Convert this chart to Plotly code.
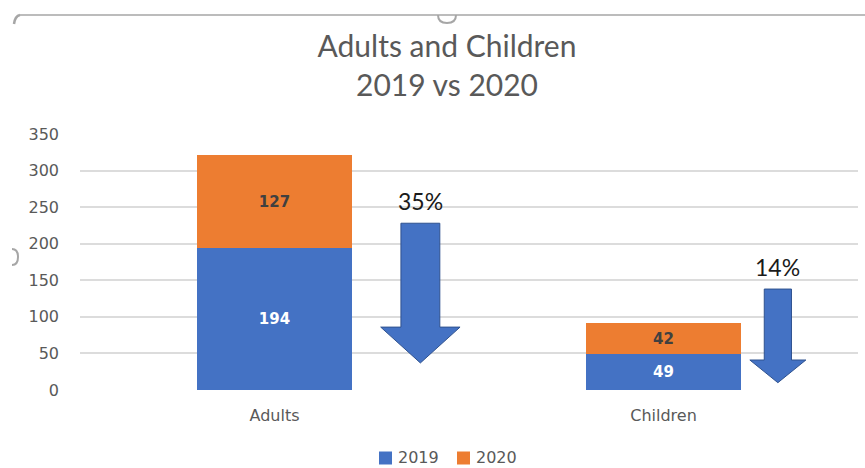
import plotly.graph_objects as go

# ---- data -------------------------------------------------------------
categories = ["Adults", "Children"]
years = ["2019", "2020"]
values_2019 = [194, 49]
values_2020 = [127, 42]
y_ticks = [0, 50, 100, 150, 200, 250, 300, 350]

# ---- styling / layout constants --------------------------------------
W, H = 865, 468
M_L, M_R, M_T, M_B = 80, 7, 134, 78
PLOT_W = W - M_L - M_R
PLOT_H = H - M_T - M_B
Y_MAX = 350

BLUE = "#4472C4"
ORANGE = "#ED7D31"
SERIES_COLORS = [BLUE, ORANGE]
ARROW_EDGE = "#2F528F"
GRID = "#DCDCDC"
TEXT_GREY = "#595959"
FRAME_GREY = "#A6A6A6"

AXIS_FONT = "DejaVu Sans"
TITLE_FONT = "Lato"

CENTER_X = 447  # horizontal centre of the chart frame, px

# decrease arrows: (offset from category centre, shaft half-width,
# head half-width) in category units; (top, head base, tip) in data units
arrow_specs = [
    (0.375, 0.050, 0.102, 228, 86, 37),
    (0.294, 0.035, 0.072, 138, 41, 10),
]
LABEL_GAP = 30  # data units between arrow top and its percentage label

# legend layout: square size, gap square->text, gap between entries (px)
LEG_SQ, LEG_TXT_GAP, LEG_ENTRY_GAP, LEG_Y = 13, 5, 20, 457
LEG_TEXT_W = 40  # approx. width of a 4-digit label at 16px


def cat_to_paper(x):
    """Category index -> paper x for an axis spanning [-0.5, n-0.5]."""
    return (x + 0.5) / len(categories)


def px_to_paper(xp, yp):
    return (xp - M_L) / PLOT_W, (H - M_B - yp) / PLOT_H


fig = go.Figure()

series = [values_2019, values_2020]
label_colors = ["white", "#404040"]
for name, vals, col, lcol in zip(years, series, SERIES_COLORS, label_colors):
    fig.add_trace(go.Bar(
        name=name, x=categories, y=vals,
        marker=dict(color=col, line=dict(width=0)),
        text=[str(v) for v in vals], textposition="inside",
        insidetextanchor="middle", textangle=0, constraintext="none",
        textfont=dict(family=AXIS_FONT, size=15, color=lcol, weight="bold"),
        hoverinfo="skip", showlegend=False,
    ))

shapes = []
annotations = []

# down arrows with percentage decrease labels
for i, (off, sh, hh, top, base, tip) in enumerate(arrow_specs):
    c = i + off
    xl, xr = cat_to_paper(c - sh), cat_to_paper(c + sh)
    hl, hr = cat_to_paper(c - hh), cat_to_paper(c + hh)
    xc = cat_to_paper(c)
    path = (f"M {xl},{top} L {xr},{top} L {xr},{base} L {hr},{base} "
            f"L {xc},{tip} L {hl},{base} L {xl},{base} Z")
    shapes.append(dict(type="path", xref="paper", yref="y", path=path,
                       fillcolor=BLUE, line=dict(color=ARROW_EDGE, width=1),
                       layer="above"))
    drop = (values_2019[i] - values_2020[i]) / values_2019[i] * 100
    annotations.append(dict(
        xref="paper", yref="y", x=xc, y=top + LABEL_GAP,
        text=f"{round(drop)}%", showarrow=False,
        xanchor="center", yanchor="middle",
        font=dict(family=TITLE_FONT, size=23, color="#1A1A1A"),
    ))

# legend: coloured squares followed by the series names, centred on the frame
entry_w = LEG_SQ + LEG_TXT_GAP + LEG_TEXT_W
total_w = len(years) * entry_w + (len(years) - 1) * LEG_ENTRY_GAP
start = CENTER_X - total_w / 2
for k, (name, col) in enumerate(zip(years, SERIES_COLORS)):
    sx = start + k * (entry_w + LEG_ENTRY_GAP)
    a0 = px_to_paper(sx, LEG_Y + 1 + LEG_SQ / 2)
    a1 = px_to_paper(sx + LEG_SQ, LEG_Y + 1 - LEG_SQ / 2)
    shapes.append(dict(type="rect", xref="paper", yref="paper",
                       x0=a0[0], y0=a0[1], x1=a1[0], y1=a1[1],
                       fillcolor=col, line=dict(width=0)))
    t = px_to_paper(sx + LEG_SQ + LEG_TXT_GAP, LEG_Y)
    annotations.append(dict(
        xref="paper", yref="paper", x=t[0], y=t[1], text=name,
        showarrow=False, xanchor="left", yanchor="middle",
        font=dict(family=AXIS_FONT, size=16, color=TEXT_GREY),
        borderpad=0,
    ))

# chart frame edge with selection handles
x0, y0 = px_to_paper(20, 15)
x1, _ = px_to_paper(865, 15)
shapes.append(dict(type="line", xref="paper", yref="paper",
                   x0=x0, y0=y0, x1=x1, y1=y0,
                   line=dict(color=FRAME_GREY, width=1.5), layer="above"))
cx, cy = px_to_paper(14, 24)
qc = px_to_paper(15, 16)
shapes.append(dict(type="path", xref="paper", yref="paper",
                   path=f"M {cx},{cy} Q {qc[0]},{qc[1]} {x0},{y0}",
                   line=dict(color=FRAME_GREY, width=2.5), layer="above"))
# top middle handle (lower half of a circle)
a = px_to_paper(438, 15)
b = px_to_paper(447, 23)
c2 = px_to_paper(456, 15)
ctrl1 = px_to_paper(438, 23)
ctrl2 = px_to_paper(456, 23)
shapes.append(dict(type="path", xref="paper", yref="paper",
                   path=(f"M {a[0]},{a[1]} Q {ctrl1[0]},{ctrl1[1]} {b[0]},{b[1]} "
                         f"Q {ctrl2[0]},{ctrl2[1]} {c2[0]},{c2[1]}"),
                   line=dict(color=FRAME_GREY, width=2), layer="above"))
# left middle handle (right half of a circle)
p = px_to_paper(12, 249)
q = px_to_paper(18, 257)
r = px_to_paper(12, 265)
k1 = px_to_paper(18, 249)
k2 = px_to_paper(18, 265)
shapes.append(dict(type="path", xref="paper", yref="paper",
                   path=(f"M {p[0]},{p[1]} Q {k1[0]},{k1[1]} {q[0]},{q[1]} "
                         f"Q {k2[0]},{k2[1]} {r[0]},{r[1]}"),
                   line=dict(color=FRAME_GREY, width=2), layer="above"))

fig.update_layout(
    width=W, height=H,
    margin=dict(l=M_L, r=M_R, t=M_T, b=M_B, autoexpand=False),
    paper_bgcolor="white", plot_bgcolor="white",
    barmode="stack", bargap=0.6,
    title=dict(
        text="Adults and Children<br>2019 vs 2020",
        x=CENTER_X / W, xanchor="center", xref="container",
        y=1 - 57 / H, yanchor="top", yref="container",
        font=dict(family=TITLE_FONT, size=30, color=TEXT_GREY),
    ),
    xaxis=dict(
        range=[-0.5, len(categories) - 0.5],
        showgrid=False, showline=False, zeroline=False, ticks="",
        tickfont=dict(family=AXIS_FONT, size=16, color=TEXT_GREY),
        ticklabelstandoff=14,
    ),
    yaxis=dict(
        range=[0, Y_MAX], tickvals=y_ticks,
        showgrid=True, gridcolor=GRID, gridwidth=2,
        zeroline=False, showline=False, ticks="",
        tickfont=dict(family=AXIS_FONT, size=16, color=TEXT_GREY),
        ticklabelstandoff=20,
    ),
    shapes=shapes,
    annotations=annotations,
    showlegend=False,
)

fig.write_html("out.html")
